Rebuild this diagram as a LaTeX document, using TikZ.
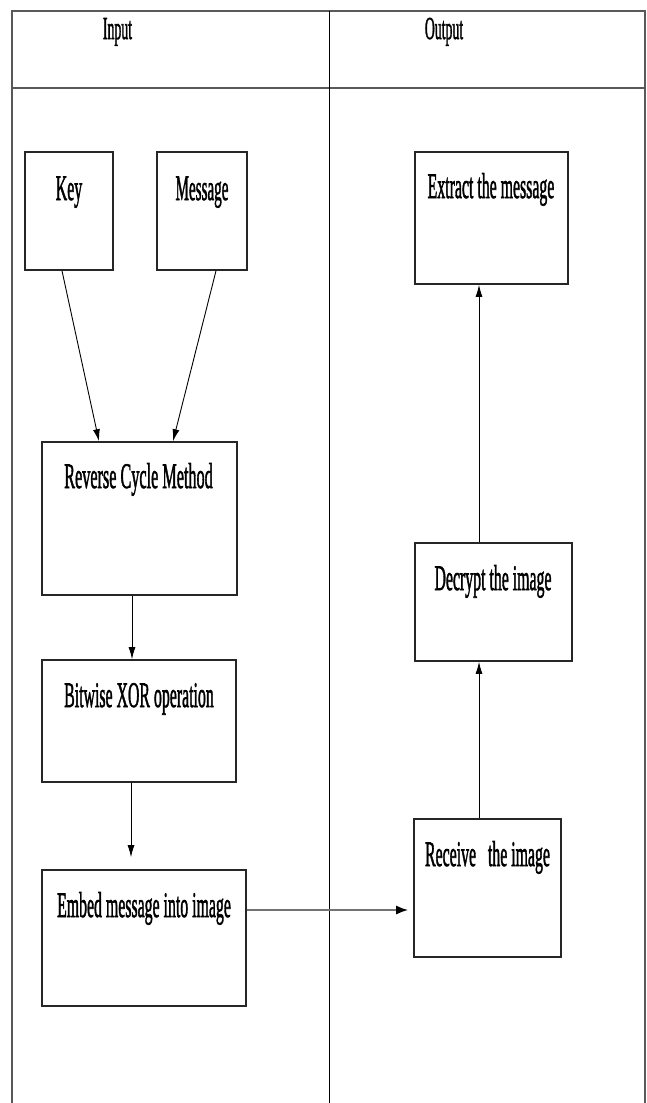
\documentclass[tikz,border=0pt]{standalone}
\usepackage{fontspec}
\setmainfont{Liberation Serif}
\newfontfamily\heavyserif[FakeBold=2]{Liberation Serif}
\usepackage{graphicx}
\usetikzlibrary{arrows.meta}
\newcommand\sqz[2]{\scalebox{#1}[1]{#2}}
\tikzset{
  frame/.style={draw=black!65, line width=1.6pt},
  divline/.style={draw=black, line width=1pt},
  procbox/.style={draw=black!85, line width=1.6pt, rectangle, inner sep=0pt, fill=white},
  txt/.style={anchor=base, inner sep=0pt, text=black, font=\heavyserif\fontsize{36}{40}\selectfont},
  htxt/.style={anchor=base, inner sep=0pt, text=black, font=\heavyserif\fontsize{32}{36}\selectfont},
  arr/.style={draw=black, line width=0.9pt, -{Latex[length=12pt,width=7pt]}},
  garr/.style={draw=black!55, line width=1.8pt, -{Latex[length=12pt,width=9pt,fill=black,color=black]}}
}
\begin{document}
\begin{tikzpicture}[x=1pt,y=-1pt]
\useasboundingbox (0,0) rectangle (646,1103);
% frame
\draw[frame] (12,1103) -- (12,11) -- (646,11);
\draw[frame] (12,88) -- (646,88);
\draw[divline] (329,11) -- (329,1103);
\draw[frame] (645,11) -- (645,1103);
% headers
\node[htxt] (hin) at (117.5,39) {\sqz{0.43}{Input}};
\node[htxt] (hout) at (444,39) {\sqz{0.43}{Output}};
% boxes
\node[procbox, minimum width=88pt, minimum height=118pt] (key) at (69,211) {};
\node[procbox, minimum width=90pt, minimum height=118pt] (msg) at (202,211) {};
\node[procbox, minimum width=153pt, minimum height=132pt] (ext) at (491.5,218) {};
\node[procbox, minimum width=195pt, minimum height=153pt] (rev) at (139.5,518.5) {};
\node[procbox, minimum width=194pt, minimum height=122pt] (bit) at (139,721) {};
\node[procbox, minimum width=204pt, minimum height=136pt] (emb) at (144,938) {};
\node[procbox, minimum width=147pt, minimum height=138pt] (rec) at (487.5,888) {};
\node[procbox, minimum width=157pt, minimum height=118pt] (dec) at (493.5,602) {};
% texts
\node[txt] (keyt) at (69,200) {\sqz{0.44}{Key}};
\node[txt] (msgt) at (202,200) {\sqz{0.42}{Message}};
\node[txt] (extt) at (491,198) {\sqz{0.44}{Extract the message}};
\node[txt] (revt) at (138.5,488) {\sqz{0.45}{Reverse Cycle Method}};
\node[txt] (bitt) at (139,707) {\sqz{0.44}{Bitwise XOR operation}};
\node[txt] (embt) at (144,917) {\sqz{0.44}{Embed message into image}};
\node[txt] (rect) at (487.5,866) {\sqz{0.44}{Receive\ \ \ the image}};
\node[txt] (dect) at (493,590) {\sqz{0.44}{Decrypt the image}};
% connectors
\draw[arr] ([xshift=-7pt]key.south) -- ([xshift=-40.5pt]rev.north);
\draw[arr] ([xshift=14pt]msg.south) -- ([xshift=33.5pt]rev.north);
\draw[arr] ([xshift=-7.5pt]rev.south) -- ([xshift=-7pt]bit.north);
\draw[arr, shorten >=12pt] ([xshift=-8pt]bit.south) -- ([xshift=-13pt]emb.north);
\draw[garr, shorten >=5pt] ([yshift=28pt]emb.east) -- ([yshift=-22pt]rec.west);
\draw[arr] ([xshift=-8.5pt]rec.north) -- ([xshift=-14.5pt]dec.south);
\draw[arr] ([xshift=-14.5pt]dec.north) -- ([xshift=-12.5pt]ext.south);
\end{tikzpicture}
\end{document}
